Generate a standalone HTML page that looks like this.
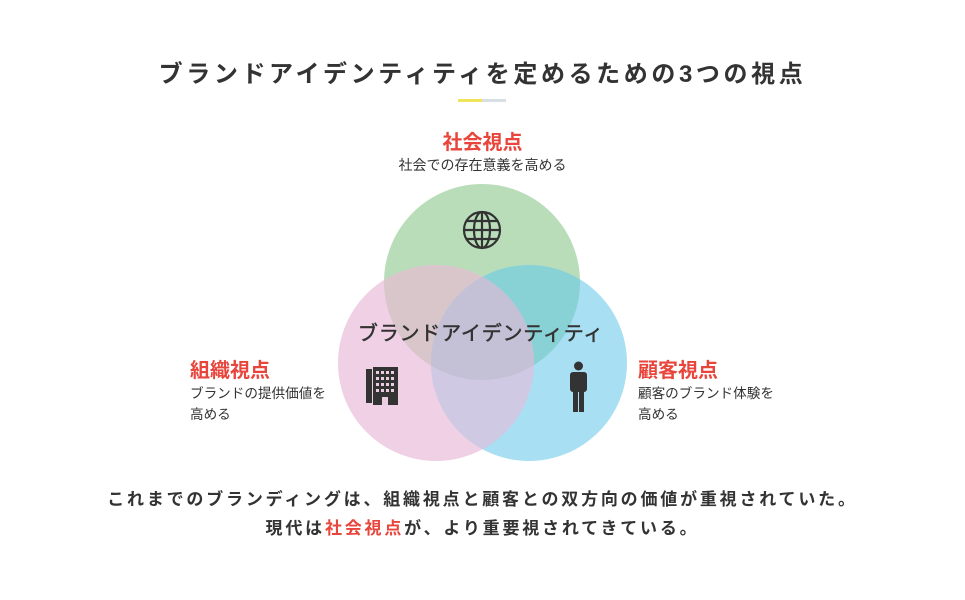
<!DOCTYPE html>
<html><head><meta charset="utf-8"><style>
body{margin:0;width:965px;height:600px;background:#fff;position:relative;overflow:hidden;font-family:"Liberation Sans","Noto Sans CJK JP",sans-serif;color:#333}
.a{position:absolute;white-space:nowrap}
.t{left:0;width:965px;text-align:center;top:54px;font-size:24px;font-weight:bold;letter-spacing:3.6px}
.r{color:#e8453c;font-weight:bold;font-size:20px}
.s{font-size:13.6px;line-height:21px;color:#333}
.b{left:0;width:965px;text-align:center;font-size:17px;font-weight:bold;letter-spacing:2.8px}
</style></head><body>
<div class="a t">ブランドアイデンティティを定めるための3つの視点</div>
<div class="a" style="left:458px;top:99px;width:24px;height:3px;background:#f0e45a"></div>
<div class="a" style="left:482px;top:99px;width:24px;height:3px;background:#d8dfe3"></div>
<div class="a r" style="left:0;width:965px;text-align:center;top:126px">社会視点</div>
<div class="a s" style="left:0;width:965px;text-align:center;top:155px;font-size:14px">社会での存在意義を高める</div>
<svg class="a" style="left:0;top:0" width="965" height="600">
<defs>
<clipPath id="g"><circle cx="482" cy="282" r="98"/></clipPath>
<clipPath id="p"><circle cx="436" cy="363" r="98"/></clipPath>
<clipPath id="b"><circle cx="529" cy="363" r="98"/></clipPath>
</defs>
<circle cx="482" cy="282" r="98" fill="#b9ddb9"/>
<circle cx="436" cy="363" r="98" fill="#efd0e4"/>
<circle cx="529" cy="363" r="98" fill="#a9dff2"/>
<circle cx="436" cy="363" r="98" fill="#d8c6cb" clip-path="url(#g)"/>
<circle cx="529" cy="363" r="98" fill="#88d1d5" clip-path="url(#g)"/>
<circle cx="529" cy="363" r="98" fill="#d0c9e3" clip-path="url(#p)"/>
<g clip-path="url(#g)"><circle cx="529" cy="363" r="98" fill="#c4c1d7" clip-path="url(#p)"/></g>
<g fill="none" stroke="#333" stroke-width="2.2">
<circle cx="482" cy="230" r="18"/>
<ellipse cx="482" cy="230" rx="8" ry="18"/>
<line x1="482" y1="212" x2="482" y2="248"/>
<line x1="464" y1="230" x2="500" y2="230"/>
<line x1="467" y1="221" x2="497" y2="221"/>
<line x1="467" y1="239" x2="497" y2="239"/>
</g>
<rect x="366" y="369" width="6" height="34" fill="#333"/>
<rect x="373" y="367" width="25" height="38" fill="#333"/>
<g fill="#e9cde0">
<rect x="376" y="371" width="3" height="3"/><rect x="381" y="371" width="3" height="3"/><rect x="386" y="371" width="3" height="3"/><rect x="391" y="371" width="3" height="3"/>
<rect x="376" y="377" width="3" height="3"/><rect x="381" y="377" width="3" height="3"/><rect x="386" y="377" width="3" height="3"/><rect x="391" y="377" width="3" height="3"/>
<rect x="376" y="383" width="3" height="3"/><rect x="381" y="383" width="3" height="3"/><rect x="386" y="383" width="3" height="3"/><rect x="391" y="383" width="3" height="3"/>
<rect x="376" y="389" width="3" height="3"/><rect x="381" y="389" width="3" height="3"/><rect x="386" y="389" width="3" height="3"/><rect x="391" y="389" width="3" height="3"/>
<rect x="382" y="397" width="6" height="8"/>
</g>
<g fill="#333">
<circle cx="578.5" cy="366" r="4.5"/>
<rect x="570" y="372" width="17" height="20" rx="3"/>
<rect x="573" y="385" width="5" height="27"/>
<rect x="579" y="385" width="5" height="27"/>
</g>
<text x="481" y="340" text-anchor="middle" font-size="20" fill="#333" stroke="#333" stroke-width="0.5" letter-spacing="0.8" font-family="Liberation Sans, Noto Sans CJK JP, sans-serif">ブランドアイデンティティ</text>
</svg>
<div class="a r" style="left:190px;top:354px">組織視点</div>
<div class="a s" style="left:190px;top:383px">ブランドの提供価値を<br>高める</div>
<div class="a r" style="left:638px;top:354px">顧客視点</div>
<div class="a s" style="left:638px;top:383px">顧客のブランド体験を<br>高める</div>
<div class="a b" style="top:485px">これまでのブランディングは、組織視点と顧客との双方向の価値が重視されていた。</div>
<div class="a b" style="top:514px">現代は<span style="color:#e8453c">社会視点</span>が、より重要視されてきている。</div>
</body></html>
